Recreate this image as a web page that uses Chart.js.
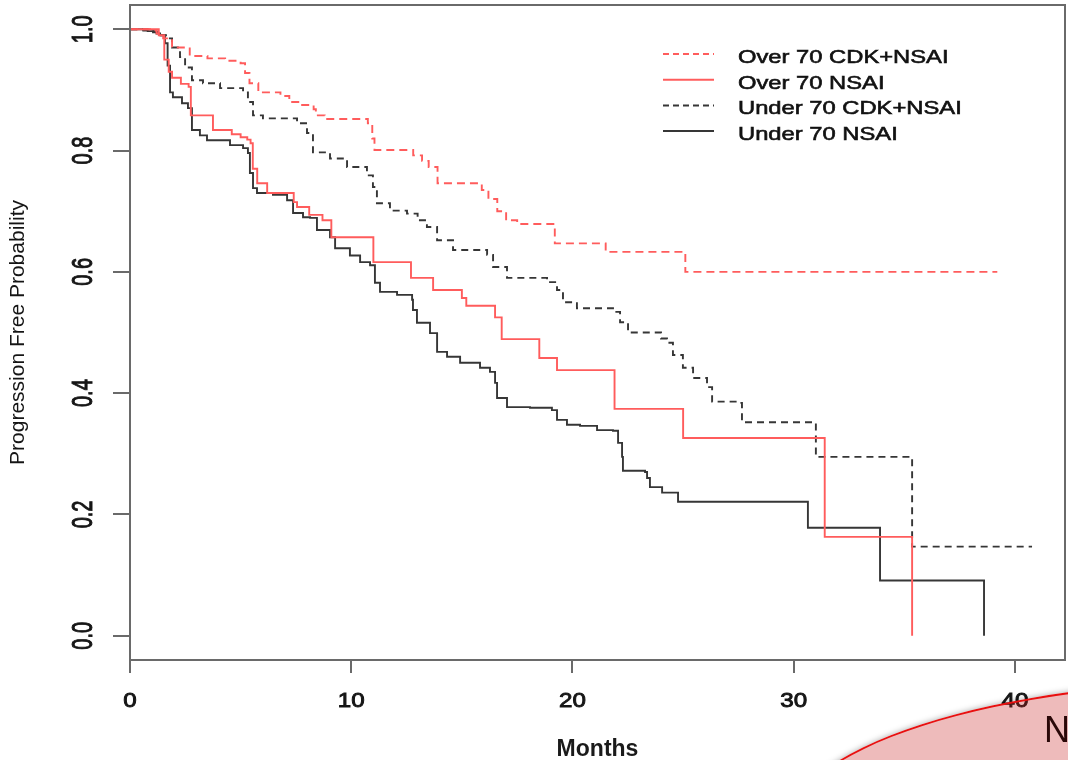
<!DOCTYPE html>
<html>
<head>
<meta charset="utf-8">
<script src="https://cdn.jsdelivr.net/npm/chart.js@4.4.1/dist/chart.umd.min.js"></script>
<style>
html,body{margin:0;padding:0;background:#fff;overflow:hidden}
#wrap{position:relative;width:1068px;height:760px}
#km{position:absolute;left:0;top:0}
#oval{position:absolute;left:784px;top:680px;width:932px;height:300px;border:2px solid #e81010;border-radius:50%;background:rgba(200,30,30,0.3);box-shadow:0 0 6px rgba(0,0,0,0.35)}
#ovalText{position:absolute;left:1044px;top:712px;font:36px/36px "Liberation Sans",Arial,sans-serif;color:#2a0808}
</style>
</head>
<body>
<div id="wrap">
  <canvas id="km" width="1068" height="760"></canvas>
  <div id="oval"></div>
  <div id="ovalText">N</div>
</div>
<script>
// Kaplan-Meier curves (months, progression free probability)
const over70CdkMonths = [0, 0.9, 1.2, 1.5, 1.9, 2.7, 3.5, 4.3, 5.0, 5.2, 5.4, 5.8, 6.8, 7.2, 7.7, 8.3, 8.4, 8.8, 10.75, 10.95, 11.05, 12.8, 13.2, 13.5, 13.9, 15.9, 16.2, 16.6, 17.0, 17.5, 19.2, 21.5, 25.1, 39.2];
const over70CdkProb   = [1.0, 0.998, 0.993, 0.985, 0.97, 0.956, 0.952, 0.948, 0.944, 0.928, 0.911, 0.896, 0.89, 0.88, 0.875, 0.868, 0.858, 0.852, 0.845, 0.82, 0.801, 0.792, 0.783, 0.773, 0.746, 0.735, 0.72, 0.70, 0.685, 0.679, 0.647, 0.633, 0.600, 0.600];

const over70NsaiMonths = [0, 1.3, 1.55, 1.75, 1.9, 2.3, 2.65, 2.75, 3.75, 4.6, 5.0, 5.3, 5.45, 5.55, 5.75, 6.2, 7.4, 7.55, 8.1, 8.7, 9.1, 11.0, 12.7, 13.7, 15.0, 15.2, 16.5, 16.8, 18.5, 19.3, 21.9, 25.0, 31.4, 35.35];
const over70NsaiProb   = [1.0, 0.99, 0.95, 0.93, 0.92, 0.91, 0.905, 0.858, 0.834, 0.827, 0.822, 0.818, 0.812, 0.77, 0.746, 0.73, 0.715, 0.707, 0.694, 0.685, 0.657, 0.616, 0.59, 0.57, 0.557, 0.544, 0.525, 0.489, 0.458, 0.438, 0.374, 0.326, 0.163, 0.0];

const under70CdkMonths = [0, 0.6, 1.04, 1.4, 1.67, 1.9, 2.26, 2.49, 2.8, 3.3, 4.07, 5.11, 5.33, 5.56, 6.01, 7.55, 8.0, 8.27, 9.04, 9.81, 10.71, 10.98, 11.16, 11.75, 12.52, 13.0, 13.42, 13.88, 14.6, 16.14, 16.41, 17.04, 18.85, 19.3, 19.57, 20.2, 21.83, 22.15, 22.51, 24.0, 24.27, 24.54, 24.99, 25.45, 26.08, 26.31, 27.57, 27.66, 31.0, 35.35, 40.77];
const under70CdkProb   = [1.0, 0.998, 0.995, 0.99, 0.985, 0.97, 0.954, 0.937, 0.916, 0.911, 0.903, 0.896, 0.88, 0.858, 0.853, 0.845, 0.829, 0.797, 0.787, 0.773, 0.759, 0.74, 0.713, 0.701, 0.696, 0.685, 0.674, 0.652, 0.636, 0.628, 0.608, 0.59, 0.583, 0.57, 0.55, 0.54, 0.534, 0.517, 0.5, 0.49, 0.483, 0.463, 0.442, 0.425, 0.41, 0.386, 0.384, 0.352, 0.295, 0.147, 0.147];

const under70NsaiMonths = [0, 0.8, 1.2, 1.36, 1.58, 1.7, 1.81, 1.94, 2.35, 2.62, 2.8, 3.16, 3.48, 4.52, 5.11, 5.33, 5.42, 5.56, 5.74, 6.46, 7.1, 7.37, 7.82, 8.14, 8.45, 9.04, 9.27, 9.94, 10.4, 10.85, 11.07, 11.3, 12.07, 12.75, 12.79, 12.97, 13.56, 13.88, 14.33, 14.92, 15.82, 16.27, 16.5, 16.59, 17.04, 18.08, 19.07, 19.3, 19.75, 20.34, 21.11, 21.83, 22.06, 22.24, 22.28, 23.28, 23.37, 23.5, 24.05, 24.77, 30.64, 33.9, 38.6];
const under70NsaiProb   = [1.0, 0.997, 0.993, 0.99, 0.977, 0.94, 0.896, 0.888, 0.878, 0.87, 0.834, 0.825, 0.817, 0.809, 0.804, 0.796, 0.763, 0.738, 0.73, 0.727, 0.718, 0.697, 0.69, 0.689, 0.669, 0.657, 0.639, 0.627, 0.616, 0.611, 0.582, 0.567, 0.562, 0.554, 0.537, 0.516, 0.499, 0.468, 0.46, 0.45, 0.442, 0.435, 0.417, 0.392, 0.377, 0.376, 0.372, 0.356, 0.348, 0.346, 0.339, 0.338, 0.318, 0.295, 0.272, 0.27, 0.26, 0.245, 0.236, 0.221, 0.178, 0.091, 0.0];

const seriesNames = ["Over 70 CDK+NSAI", "Over 70 NSAI", "Under 70 CDK+NSAI", "Under 70 NSAI"];
const xTicks = [0, 10, 20, 30, 40];
const xTickLabels = ["0", "10", "20", "30", "40"];
const yTicks = [0, 0.2, 0.4, 0.6, 0.8, 1.0];
const yTickLabels = ["0.0", "0.2", "0.4", "0.6", "0.8", "1.0"];

const font = '"Liberation Sans", Arial, Helvetica, sans-serif';
const axisGrey = "#6a6a6a";
const red = "#ff5c5c";
const dark = "#363636";

function pts(xs, ys) {
  return xs.map((m, i) => ({x: m, y: ys[i]}));
}

const curves = [
  {label: seriesNames[0], data: pts(over70CdkMonths, over70CdkProb), borderColor: red, borderDash: [8, 5]},
  {label: seriesNames[1], data: pts(over70NsaiMonths, over70NsaiProb), borderColor: red, borderDash: []},
  {label: seriesNames[2], data: pts(under70CdkMonths, under70CdkProb), borderColor: dark, borderDash: [7, 5]},
  {label: seriesNames[3], data: pts(under70NsaiMonths, under70NsaiProb), borderColor: dark, borderDash: []}
];

// text a bit heavier, like the blurred original
function heavyText(ctx, str, w) {
  ctx.lineWidth = w;
  ctx.strokeStyle = ctx.fillStyle;
  ctx.strokeText(str, 0, 0);
  ctx.fillText(str, 0, 0);
}

// box, rotated/stretched tick labels and the legend, drawn like R does it
const rStyle = {
  id: "rStyle",
  afterDraw(chart) {
    const {ctx, chartArea: a, scales: {x, y}} = chart;
    ctx.save();
    ctx.strokeStyle = axisGrey;
    ctx.lineWidth = 2;
    ctx.strokeRect(a.left, a.top, a.right - a.left, a.bottom - a.top);

    ctx.fillStyle = "#151515";
    ctx.textAlign = "center";
    ctx.textBaseline = "alphabetic";
    ctx.font = "21px " + font;
    xTicks.forEach((v, i) => {
      ctx.save();
      ctx.translate(x.getPixelForValue(v), 707);
      ctx.scale(1.15, 1);
      heavyText(ctx, xTickLabels[i], 0.9);
      ctx.restore();
    });
    ctx.font = "20px " + font;
    yTicks.forEach((v, i) => {
      ctx.save();
      ctx.translate(92, y.getPixelForValue(v));
      ctx.rotate(-Math.PI / 2);
      ctx.scale(1, 1.45);
      heavyText(ctx, yTickLabels[i], 0.7);
      ctx.restore();
    });

    // legend
    ctx.textAlign = "left";
    ctx.font = "19px " + font;
    curves.forEach((c, i) => {
      const ly = 54 + i * 25.7;
      ctx.beginPath();
      ctx.strokeStyle = c.borderColor;
      ctx.lineWidth = 2;
      ctx.setLineDash(c.borderDash.length ? [6, 4] : []);
      ctx.moveTo(663, ly);
      ctx.lineTo(714, ly);
      ctx.stroke();
      ctx.setLineDash([]);
      ctx.save();
      ctx.translate(738, ly + 9);
      ctx.scale(1.25, 1);
      ctx.fillStyle = "#111";
      heavyText(ctx, c.label, 0.6);
      ctx.restore();
    });
    ctx.restore();
  }
};

new Chart(document.getElementById("km"), {
  type: "line",
  data: {
    datasets: curves.map(c => ({
      label: c.label,
      data: c.data,
      borderColor: c.borderColor,
      borderDash: c.borderDash,
      borderWidth: 1.9,
      stepped: "before",
      pointRadius: 0,
      fill: false
    }))
  },
  options: {
    responsive: false,
    animation: false,
    devicePixelRatio: 1,
    layout: {padding: {top: 5, right: 3, left: 0, bottom: 0}},
    plugins: {legend: {display: false}, tooltip: {enabled: false}},
    scales: {
      x: {
        type: "linear",
        min: 0,
        max: 42.26,
        afterBuildTicks: s => { s.ticks = xTicks.map(v => ({value: v})); },
        afterFit: s => { s.height = 100; },
        ticks: {display: false},
        border: {display: false},
        grid: {drawOnChartArea: false, drawTicks: true, tickLength: 13, color: axisGrey, lineWidth: 2},
        title: {display: true, text: "Months", color: "#1a1a1a", padding: 0,
                font: {family: font, size: 23, weight: "bold", lineHeight: 0.9}}
      },
      y: {
        type: "linear",
        min: -0.04,
        max: 1.04,
        afterBuildTicks: s => { s.ticks = yTicks.map(v => ({value: v})); },
        afterFit: s => { s.width = 130; },
        ticks: {display: false},
        border: {display: false},
        grid: {drawOnChartArea: false, drawTicks: true, tickLength: 17, color: axisGrey, lineWidth: 2},
        title: {display: true, text: "Progression Free Probability", color: "#151515", padding: {top: 6, bottom: 0},
                font: {family: font, size: 21, lineHeight: 1.2}}
      }
    }
  },
  plugins: [rStyle]
});
</script>
</body>
</html>
